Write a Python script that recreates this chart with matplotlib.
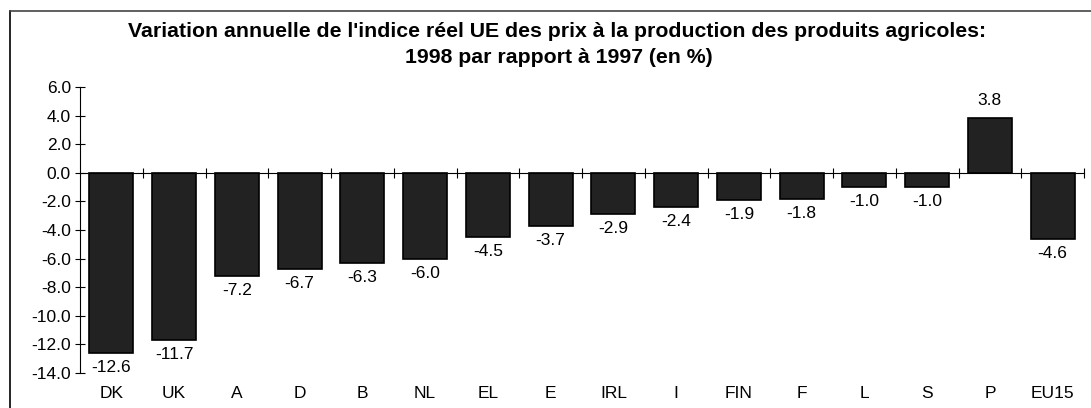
import matplotlib
matplotlib.use('Agg')
import matplotlib.pyplot as plt
import numpy as np

countries = ['DK', 'UK', 'A', 'D', 'B', 'NL', 'EL', 'E', 'IRL', 'I',
             'FIN', 'F', 'L', 'S', 'P', 'EU15']
values = [-12.6, -11.7, -7.2, -6.7, -6.3, -6.0, -4.5, -3.7, -2.9, -2.4,
          -1.9, -1.8, -1.0, -1.0, 3.8, -4.6]
yticks = [-14, -12, -10, -8, -6, -4, -2, 0, 2, 4, 6]

plt.rcParams['font.family'] = ['Liberation Sans', 'DejaVu Sans']

fig = plt.figure(figsize=(10.91, 4.08), dpi=100)
ax = fig.add_axes([80 / 1091, 1 - 373 / 408, 1004 / 1091, 286 / 408])

x = np.arange(len(countries))
ax.bar(x, values, width=0.7, color='#222222', edgecolor='black', linewidth=1.2)

for xi, v in zip(x, values):
    if v >= 0:
        ax.text(xi, v + 0.7, f'{v:.1f}', ha='center', va='bottom', fontsize=12.5)
    else:
        ax.text(xi, v - 0.5, f'{v:.1f}', ha='center', va='top', fontsize=12.5)

ax.set_xlim(-0.5, len(countries) - 0.5)
ax.set_ylim(-14, 6)
ax.set_yticks(yticks)
ax.set_yticklabels([f'{t:.1f}' for t in yticks], fontsize=12.5)
ax.tick_params(axis='y', direction='inout', length=7, width=0.8, pad=3)

# x axis line at zero with boundary ticks
for s in ['top', 'right']:
    ax.spines[s].set_visible(False)
ax.spines['bottom'].set_position(('data', 0))
ax.spines['bottom'].set_linewidth(0.8)
ax.spines['left'].set_linewidth(0.8)
ax.set_xticks(x + 0.5)
ax.set_xticklabels([])
ax.tick_params(axis='x', direction='inout', length=7, width=0.8)

sec = ax.secondary_xaxis('bottom')
sec.set_xticks(x)
sec.set_xticklabels(countries, fontsize=12.5)
sec.tick_params(length=0, pad=9)
sec.spines['bottom'].set_visible(False)

fig.text(557 / 1091, 1 - 37 / 408, "Variation annuelle de l'indice réel UE des prix à la production des produits agricoles:",
         ha='center', va='baseline', fontsize=15.3, fontweight='bold')
fig.text(559 / 1091, 1 - 63 / 408, '1998 par rapport à 1997 (en %)',
         ha='center', va='baseline', fontsize=15.3, fontweight='bold')

# frame around the chart
fig.add_artist(plt.Line2D([10 / 1091, 10 / 1091], [0, 1 - 11 / 408], transform=fig.transFigure,
                          color='black', linewidth=1.2))
fig.add_artist(plt.Line2D([10 / 1091, 1], [1 - 11 / 408, 1 - 11 / 408], transform=fig.transFigure,
                          color='#444444', linewidth=1.2))

fig.savefig('out.png', dpi=100)
